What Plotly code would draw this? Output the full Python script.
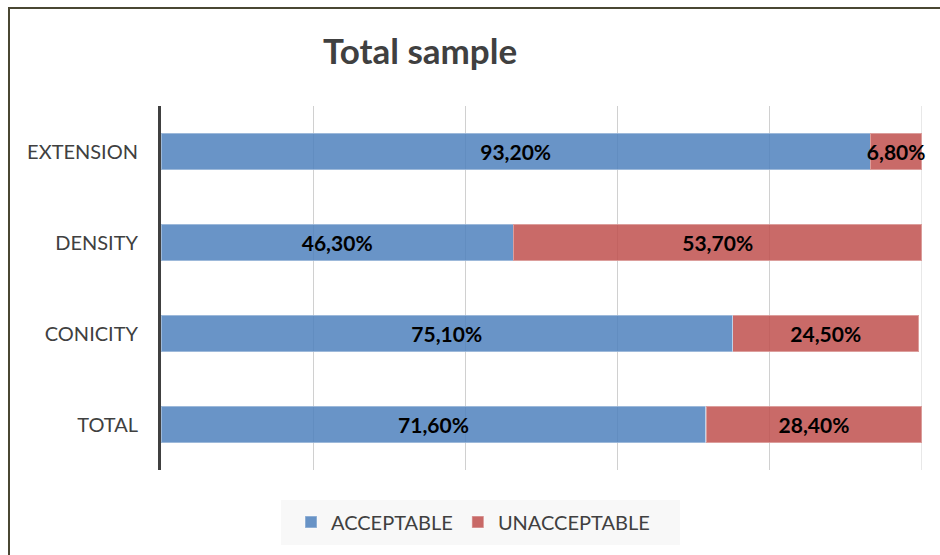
import plotly.graph_objects as go

# Survey categories, top to bottom
categories = ["EXTENSION", "DENSITY", "CONICITY", "TOTAL"]
acceptable = [93.2, 46.3, 75.1, 71.6]
unacceptable = [6.8, 53.7, 24.5, 28.4]
series_names = ["ACCEPTABLE", "UNACCEPTABLE"]
x_max = 100

W, H = 940, 555
ML, MR, MT, MB = 161, 18, 106, 85
PW, PH = W - ML - MR, H - MT - MB
FONT = "Lato"
GRID = "#d0d0d0"


def fmt(v):
    return f"{v:.2f}".replace(".", ",") + "%"


def px_x(x):
    return (x - ML) / PW


def px_y(y):
    return 1 - (y - MT) / PH


label_font = dict(family=FONT, size=21, color="#000000", weight="bold")

fig = go.Figure()
for name, vals, color in [
    (series_names[0], acceptable, "rgba(79,129,189,0.85)"),
    (series_names[1], unacceptable, "rgba(192,80,77,0.85)"),
]:
    fig.add_trace(go.Bar(
        name=name,
        y=categories,
        x=vals,
        orientation="h",
        width=0.4,
        marker=dict(color=color, line=dict(color="rgba(255,255,255,0.35)", width=1.5)),
        text=[fmt(v) for v in vals],
        textposition="inside",
        insidetextanchor="middle",
        constraintext="none",
        textfont=label_font,
        cliponaxis=False,
    ))

fig.update_layout(
    width=W, height=H,
    margin=dict(l=ML, r=MR, t=MT, b=MB),
    barmode="stack",
    paper_bgcolor="white",
    plot_bgcolor="white",
    font=dict(family=FONT, color="#404040"),
    title=dict(
        text="<b>Total sample</b>",
        font=dict(family=FONT, size=35, color="#404040"),
        x=420 / W, xanchor="center",
        y=1 - 52 / H, yanchor="middle",
    ),
    xaxis=dict(
        range=[0, x_max], dtick=20, showticklabels=False,
        showgrid=True, gridcolor=GRID, gridwidth=1,
        zeroline=False, showline=False, fixedrange=True,
    ),
    yaxis=dict(
        autorange="reversed",
        showline=True, linecolor="#404040", linewidth=3,
        ticks="", ticklabelstandoff=16,
        tickfont=dict(family=FONT, size=20, color="#404040"),
        showgrid=False, zeroline=False,
    ),
    showlegend=True,
    legend=dict(
        orientation="h",
        x=px_x(291), xanchor="left",
        y=px_y(522), yanchor="middle",
        bgcolor="rgba(0,0,0,0)",
        font=dict(family=FONT, size=20, color="#404040"),
        traceorder="normal",
        itemclick=False,
    ),
    shapes=[
        # legend background panel
        dict(type="rect", xref="paper", yref="paper",
             x0=px_x(281), x1=px_x(680), y0=px_y(545), y1=px_y(500),
             fillcolor="#f8f8f8", line=dict(width=0), layer="below"),
        # gridline at the right end of the value axis
        dict(type="line", xref="x", yref="paper",
             x0=x_max, x1=x_max, y0=0, y1=1,
             line=dict(color=GRID, width=1), layer="below"),
        # outer frame
        dict(type="rect", xref="paper", yref="paper",
             x0=px_x(9), x1=px_x(948), y0=px_y(562), y1=px_y(8),
             fillcolor="rgba(0,0,0,0)", line=dict(color="#4a4733", width=2)),
    ],
)

fig.write_html("out.html")
